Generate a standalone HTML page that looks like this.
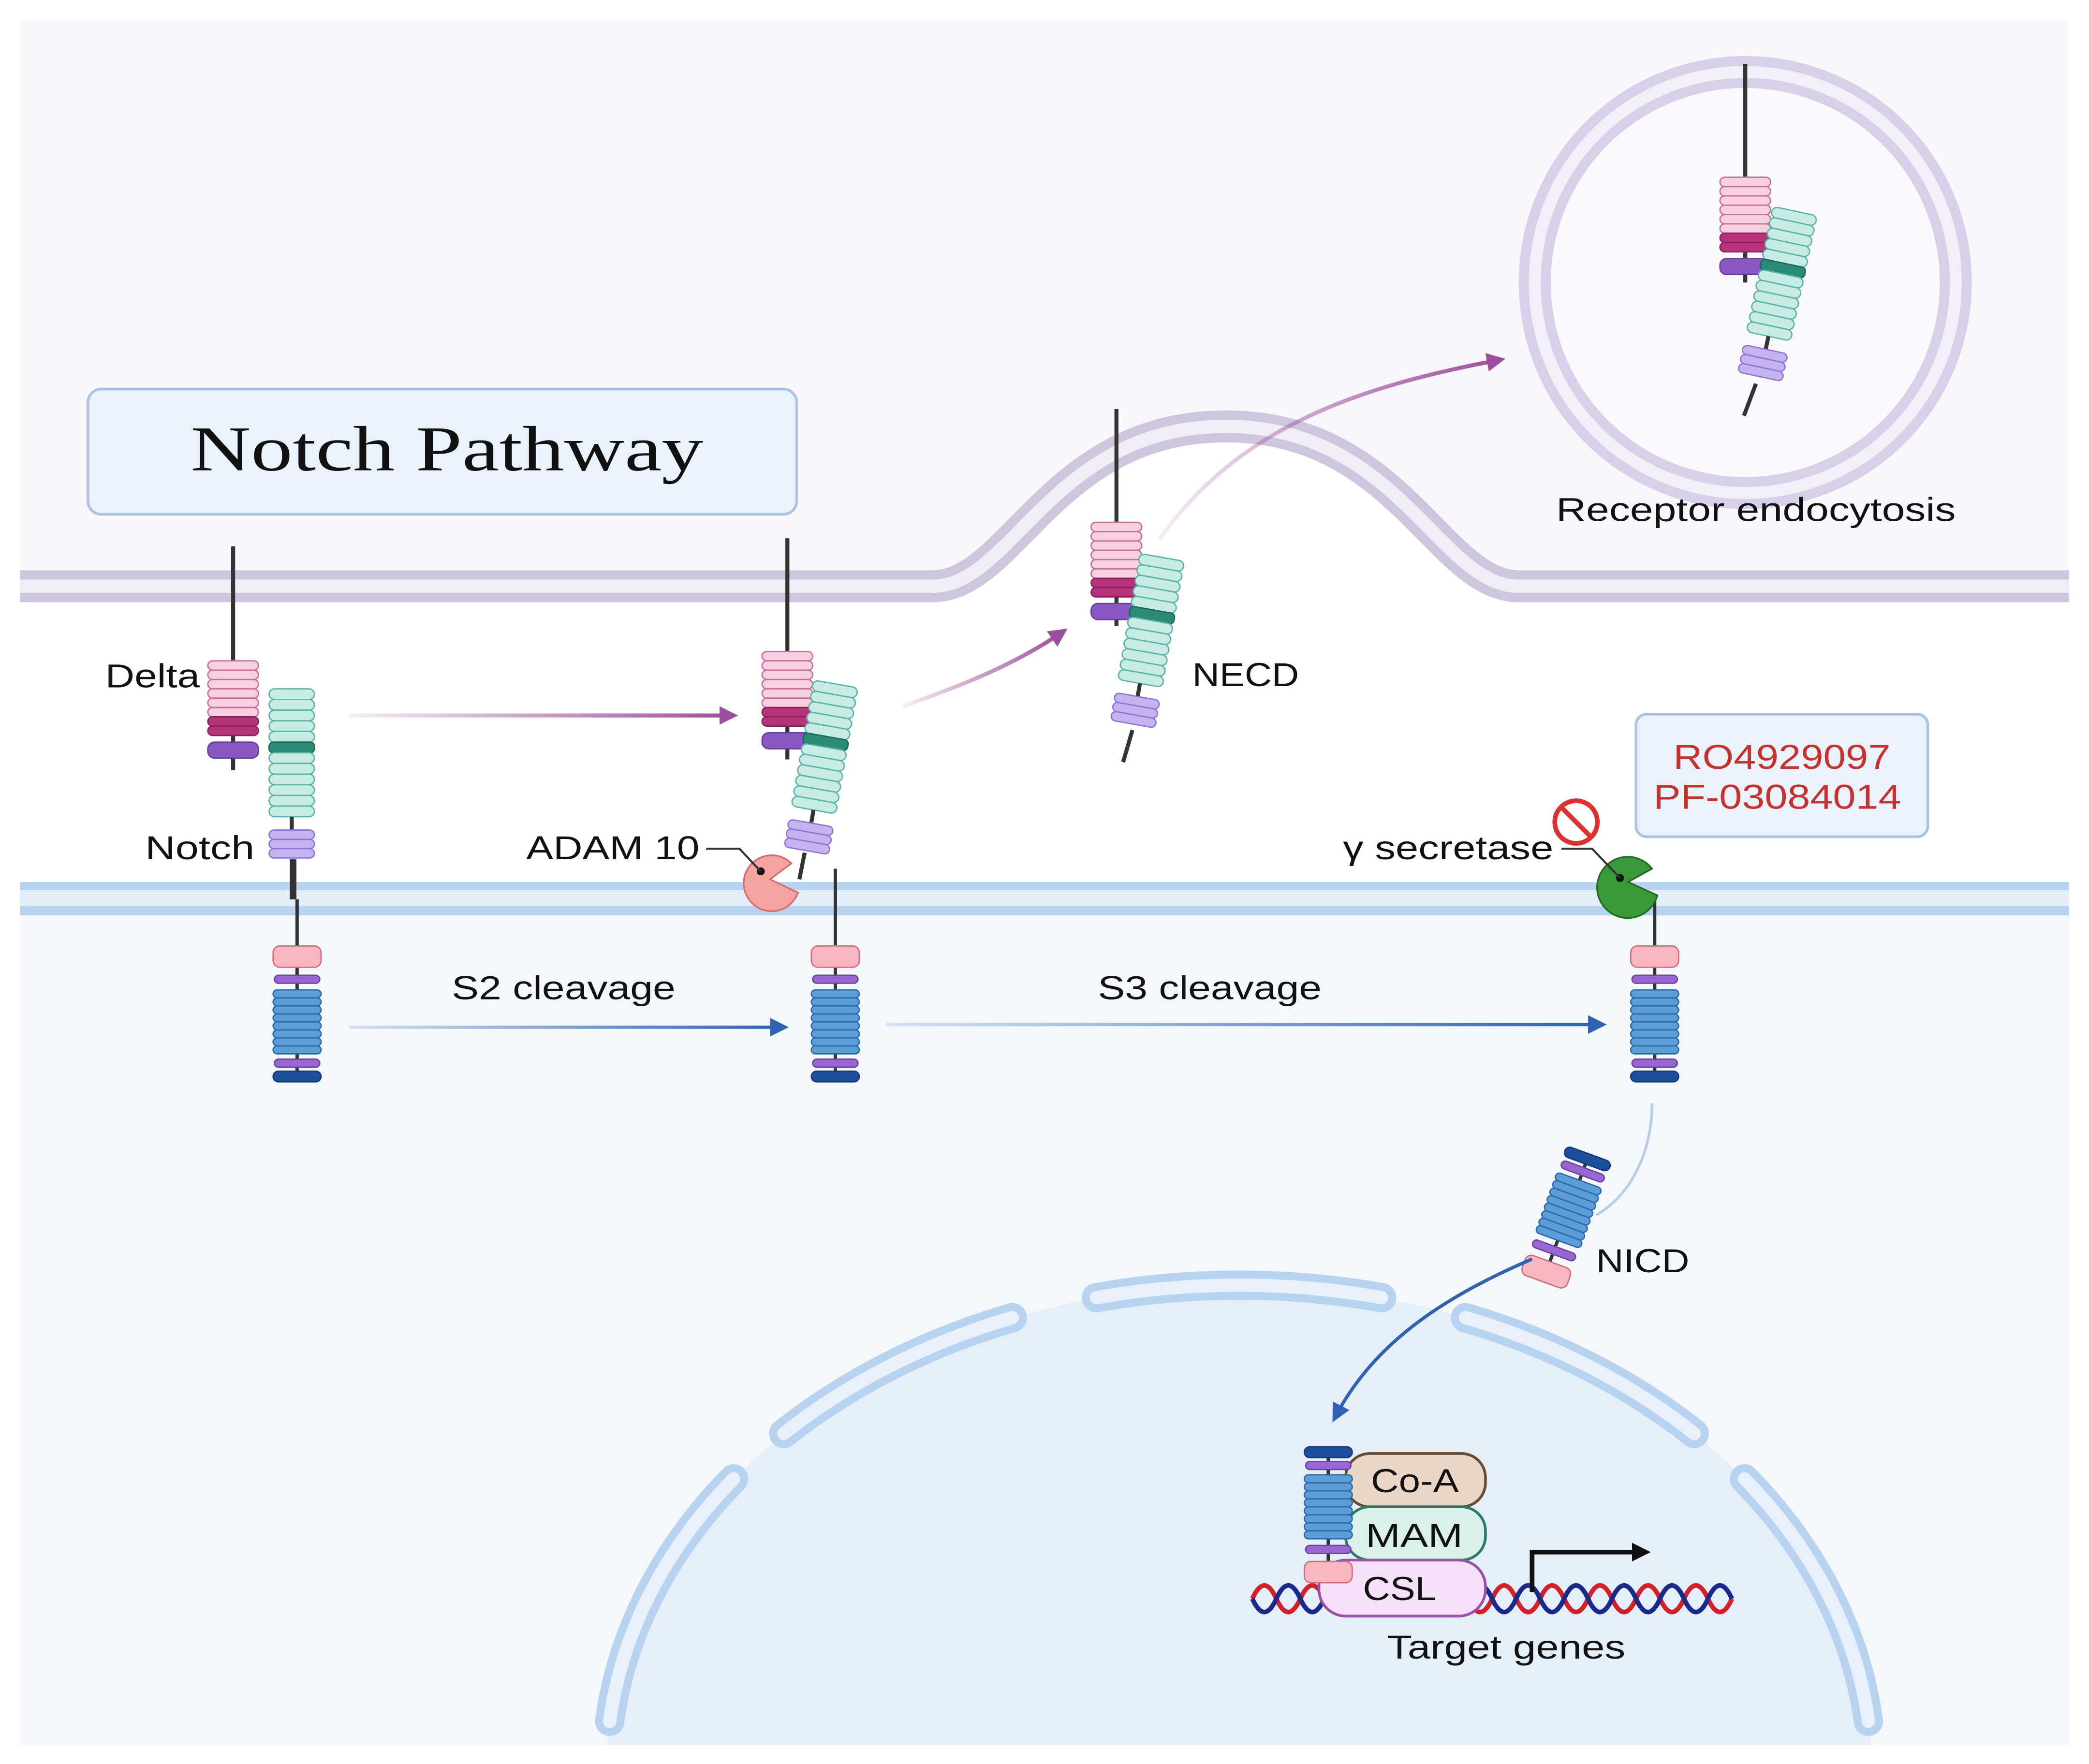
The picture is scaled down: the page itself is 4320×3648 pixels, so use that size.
<!DOCTYPE html>
<html><head><meta charset="utf-8"><style>
html,body{margin:0;padding:0;background:#fff;overflow:hidden;width:4320px;height:3648px;}
svg{display:block;}
text{font-family:"Liberation Sans",sans-serif;}
</style></head><body>
<svg width="4320" height="3648" viewBox="0 0 1568 1324" xmlns="http://www.w3.org/2000/svg">
<defs>
  <marker id="ap" markerWidth="14" markerHeight="14" refX="10" refY="7" orient="auto" markerUnits="userSpaceOnUse" viewBox="0 0 14 14"><path d="M0,0 L14,7 L0,14 z" fill="#9b4f9c"/></marker>
  <marker id="ab" markerWidth="14" markerHeight="14" refX="10" refY="7" orient="auto" markerUnits="userSpaceOnUse" viewBox="0 0 14 14"><path d="M0,0 L14,7 L0,14 z" fill="#2f62b0"/></marker>
  <marker id="ak" markerWidth="14" markerHeight="14" refX="10" refY="7" orient="auto" markerUnits="userSpaceOnUse" viewBox="0 0 14 14"><path d="M0,0 L14,7 L0,14 z" fill="#111"/></marker>
  <linearGradient id="gp1" gradientUnits="userSpaceOnUse" x1="262" y1="0" x2="550" y2="0"><stop offset="0" stop-color="#9b4f9c" stop-opacity="0.1"/><stop offset="1" stop-color="#9b4f9c"/></linearGradient>
  <linearGradient id="gp2" gradientUnits="userSpaceOnUse" x1="678" y1="0" x2="798" y2="0"><stop offset="0" stop-color="#9b4f9c" stop-opacity="0.1"/><stop offset="1" stop-color="#9b4f9c"/></linearGradient>
  <linearGradient id="gp3" gradientUnits="userSpaceOnUse" x1="870" y1="0" x2="1126" y2="0"><stop offset="0" stop-color="#9b4f9c" stop-opacity="0.1"/><stop offset="1" stop-color="#9b4f9c"/></linearGradient>
  <linearGradient id="gb1" gradientUnits="userSpaceOnUse" x1="262" y1="0" x2="588" y2="0"><stop offset="0" stop-color="#2f62b0" stop-opacity="0.15"/><stop offset="1" stop-color="#2f62b0"/></linearGradient>
  <linearGradient id="gb2" gradientUnits="userSpaceOnUse" x1="665" y1="0" x2="1202" y2="0"><stop offset="0" stop-color="#2f62b0" stop-opacity="0.15"/><stop offset="1" stop-color="#2f62b0"/></linearGradient>

  <g id="delta">
    <rect x="0" y="0" width="38" height="7" rx="3.5" fill="#f8cfe0" stroke="#c77199" stroke-width="1"/>
    <rect x="0" y="7" width="38" height="7" rx="3.5" fill="#f8cfe0" stroke="#c77199" stroke-width="1"/>
    <rect x="0" y="14" width="38" height="7" rx="3.5" fill="#f8cfe0" stroke="#c77199" stroke-width="1"/>
    <rect x="0" y="21" width="38" height="7" rx="3.5" fill="#f8cfe0" stroke="#c77199" stroke-width="1"/>
    <rect x="0" y="28" width="38" height="7" rx="3.5" fill="#f8cfe0" stroke="#c77199" stroke-width="1"/>
    <rect x="0" y="35" width="38" height="7" rx="3.5" fill="#f8cfe0" stroke="#c77199" stroke-width="1"/>
    <rect x="0" y="42" width="38" height="7" rx="3.5" fill="#b5347a" stroke="#8d1f5c" stroke-width="1"/>
    <rect x="0" y="49" width="38" height="7" rx="3.5" fill="#b5347a" stroke="#8d1f5c" stroke-width="1"/>
    <rect x="0" y="61" width="38" height="12" rx="5" fill="#8a58c2" stroke="#653f9a" stroke-width="1"/>
  </g>
  <g id="necd">
    <rect x="0" y="0" width="34" height="8" rx="4" fill="#c6ece5" stroke="#5db4a6"/>
    <rect x="0" y="8" width="34" height="8" rx="4" fill="#c6ece5" stroke="#5db4a6"/>
    <rect x="0" y="16" width="34" height="8" rx="4" fill="#c6ece5" stroke="#5db4a6"/>
    <rect x="0" y="24" width="34" height="8" rx="4" fill="#c6ece5" stroke="#5db4a6"/>
    <rect x="0" y="32" width="34" height="8" rx="4" fill="#c6ece5" stroke="#5db4a6"/>
    <rect x="0" y="40" width="34" height="8" rx="3" fill="#2c8a79" stroke="#1d6a5c"/>
    <rect x="0" y="48" width="34" height="8" rx="4" fill="#c6ece5" stroke="#5db4a6"/>
    <rect x="0" y="56" width="34" height="8" rx="4" fill="#c6ece5" stroke="#5db4a6"/>
    <rect x="0" y="64" width="34" height="8" rx="4" fill="#c6ece5" stroke="#5db4a6"/>
    <rect x="0" y="72" width="34" height="8" rx="4" fill="#c6ece5" stroke="#5db4a6"/>
    <rect x="0" y="80" width="34" height="8" rx="4" fill="#c6ece5" stroke="#5db4a6"/>
    <rect x="0" y="88" width="34" height="8" rx="4" fill="#c6ece5" stroke="#5db4a6"/>
    <line x1="17" y1="96" x2="17" y2="106" stroke="#333" stroke-width="3"/>
    <rect x="0" y="106" width="34" height="7" rx="3.5" fill="#c5b3f0" stroke="#8f76cf"/>
    <rect x="0" y="113" width="34" height="7" rx="3.5" fill="#c5b3f0" stroke="#8f76cf"/>
    <rect x="0" y="120" width="34" height="7" rx="3.5" fill="#c5b3f0" stroke="#8f76cf"/>
  </g>
  <g id="icd">
    <line x1="18" y1="0" x2="18" y2="100" stroke="#333" stroke-width="2.5"/>
    <rect x="0" y="0" width="36" height="16" rx="5" fill="#f7b7c0" stroke="#d46b7b"/>
    <rect x="1" y="22" width="34" height="6" rx="3" fill="#9a67d2" stroke="#6b44a3"/>
    <rect x="0" y="33" width="36" height="6" rx="3" fill="#5b9dd8" stroke="#2f6aa8"/>
    <rect x="0" y="39" width="36" height="6" rx="3" fill="#5b9dd8" stroke="#2f6aa8"/>
    <rect x="0" y="45" width="36" height="6" rx="3" fill="#5b9dd8" stroke="#2f6aa8"/>
    <rect x="0" y="51" width="36" height="6" rx="3" fill="#5b9dd8" stroke="#2f6aa8"/>
    <rect x="0" y="57" width="36" height="6" rx="3" fill="#5b9dd8" stroke="#2f6aa8"/>
    <rect x="0" y="63" width="36" height="6" rx="3" fill="#5b9dd8" stroke="#2f6aa8"/>
    <rect x="0" y="69" width="36" height="6" rx="3" fill="#5b9dd8" stroke="#2f6aa8"/>
    <rect x="0" y="75" width="36" height="6" rx="3" fill="#5b9dd8" stroke="#2f6aa8"/>
    <rect x="1" y="85" width="34" height="6" rx="3" fill="#9a67d2" stroke="#6b44a3"/>
    <rect x="0" y="94" width="36" height="8" rx="4" fill="#1e4f9c" stroke="#153a78"/>
  </g>
</defs>

<!-- backgrounds -->
<rect x="0" y="0" width="1568" height="1324" fill="#ffffff"/>
<path d="M15,15 H1553 V440 H1140 C1080,440 1050,320 920,320 C790,320 760,440 700,440 H15 Z" fill="#faf7fc"/>
<rect x="15" y="675" width="1538" height="635" fill="#f4f8fd"/>

<!-- nucleus -->
<ellipse cx="930" cy="1330" rx="475" ry="365" fill="#e5effa"/>
<rect x="0" y="1310" width="1568" height="20" fill="#ffffff"/>
<g fill="none" stroke-linecap="round">
  <g stroke="#b7d3ef" stroke-width="22">
    <path d="M457.6,1292 A475,365 0 0 1 550.6,1110"/>
    <path d="M588.3,1076 A475,365 0 0 1 759.8,989"/>
    <path d="M823,974 A475,365 0 0 1 1037,974"/>
    <path d="M1100,989 A475,365 0 0 1 1271.7,1076"/>
    <path d="M1309.4,1110 A475,365 0 0 1 1402.4,1292"/>
  </g>
  <g stroke="#e8f1fb" stroke-width="10">
    <path d="M457.6,1292 A475,365 0 0 1 550.6,1110"/>
    <path d="M588.3,1076 A475,365 0 0 1 759.8,989"/>
    <path d="M823,974 A475,365 0 0 1 1037,974"/>
    <path d="M1100,989 A475,365 0 0 1 1271.7,1076"/>
    <path d="M1309.4,1110 A475,365 0 0 1 1402.4,1292"/>
  </g>
</g>

<!-- upper membrane -->
<path d="M15,440 H700 C760,440 790,320 920,320 C1050,320 1080,440 1140,440 H1553" fill="none" stroke="#cfc6dd" stroke-width="24"/>
<path d="M15,440 H700 C760,440 790,320 920,320 C1050,320 1080,440 1140,440 H1553" fill="none" stroke="#f1edf7" stroke-width="10"/>

<!-- lower membrane -->
<rect x="15" y="662" width="1538" height="25" fill="#b7d3ef"/>
<rect x="15" y="668" width="1538" height="12" fill="#e3eef9"/>

<!-- vesicle -->
<circle cx="1310" cy="212" r="158" fill="#fbf9fd" stroke="#d8cfe8" stroke-width="24"/>
<circle cx="1310" cy="212" r="158" fill="none" stroke="#f3eff9" stroke-width="9"/>

<!-- title -->
<rect x="66" y="292" width="532" height="94" rx="10" fill="#eaf2fb" stroke="#a9c3e0" stroke-width="2"/>
<text x="143" y="353" textLength="385" lengthAdjust="spacingAndGlyphs" style="font-family:'Liberation Serif',serif" font-size="48" fill="#111">Notch Pathway</text>

<!-- group 1 -->
<line x1="175" y1="410" x2="175" y2="578" stroke="#333" stroke-width="3"/>
<use href="#delta" x="156" y="496"/>
<use href="#necd" x="202" y="517"/>
<line x1="220" y1="645" x2="220" y2="675" stroke="#333" stroke-width="5"/>
<line x1="223" y1="675" x2="223" y2="710" stroke="#333" stroke-width="2.5"/>
<use href="#icd" x="205" y="710"/>
<text x="79" y="516" textLength="71" lengthAdjust="spacingAndGlyphs" font-size="25" fill="#111">Delta</text>
<text x="109" y="645" textLength="82" lengthAdjust="spacingAndGlyphs" font-size="25" fill="#111">Notch</text>

<!-- group 2 -->
<line x1="591" y1="404" x2="591" y2="570" stroke="#333" stroke-width="3"/>
<use href="#delta" x="572" y="489"/>
<g transform="rotate(10 625 515)"><use href="#necd" x="610" y="513"/></g>
<line x1="604" y1="640" x2="600" y2="660" stroke="#333" stroke-width="3"/>
<line x1="627" y1="652" x2="627" y2="710" stroke="#333" stroke-width="2.5"/>
<use href="#icd" x="609" y="710"/>
<path d="M578,660 L594,648 A21,21 0 1 0 599,670 Z" fill="#f4a3a3" stroke="#d86a6a" stroke-width="1.2"/>
<circle cx="571" cy="654" r="3" fill="#111"/>
<polyline points="530,637 555,637 571,654" fill="none" stroke="#333" stroke-width="1.5"/>
<text x="395" y="645" textLength="130" lengthAdjust="spacingAndGlyphs" font-size="25" fill="#111">ADAM 10</text>

<!-- group 3 NECD -->
<line x1="838" y1="307" x2="838" y2="470" stroke="#333" stroke-width="3"/>
<use href="#delta" x="819" y="392"/>
<g transform="rotate(10 870 420)"><use href="#necd" x="855" y="418"/></g>
<line x1="850" y1="548" x2="843" y2="572" stroke="#333" stroke-width="3"/>
<text x="895" y="515" textLength="80" lengthAdjust="spacingAndGlyphs" font-size="25" fill="#111">NECD</text>

<!-- vesicle content -->
<line x1="1310" y1="48" x2="1310" y2="212" stroke="#333" stroke-width="3"/>
<use href="#delta" x="1291" y="133"/>
<g transform="rotate(12 1345 160)"><use href="#necd" x="1330" y="158"/></g>
<line x1="1318" y1="288" x2="1309" y2="312" stroke="#333" stroke-width="3"/>
<text x="1168" y="391" textLength="300" lengthAdjust="spacingAndGlyphs" font-size="25" fill="#111">Receptor endocytosis</text>

<!-- arrows -->
<line x1="262" y1="537" x2="550" y2="537" stroke="url(#gp1)" stroke-width="3" marker-end="url(#ap)"/>
<path d="M678,530 C720,515 760,500 798,474" fill="none" stroke="url(#gp2)" stroke-width="3" marker-end="url(#ap)"/>
<path d="M870,405 C930,320 1020,290 1126,270" fill="none" stroke="url(#gp3)" stroke-width="3" marker-end="url(#ap)"/>
<line x1="262" y1="771" x2="588" y2="771" stroke="url(#gb1)" stroke-width="2.5" marker-end="url(#ab)"/>
<line x1="665" y1="769" x2="1202" y2="769" stroke="url(#gb2)" stroke-width="2.5" marker-end="url(#ab)"/>
<text x="339" y="750" textLength="168" lengthAdjust="spacingAndGlyphs" font-size="25" fill="#111">S2 cleavage</text>
<text x="824" y="750" textLength="168" lengthAdjust="spacingAndGlyphs" font-size="25" fill="#111">S3 cleavage</text>

<!-- group 4 -->
<line x1="1242" y1="672" x2="1242" y2="710" stroke="#333" stroke-width="2.5"/>
<use href="#icd" x="1224" y="710"/>
<path d="M1222,662 L1240,652 A23,23 0 1 0 1244,672 Z" fill="#3a9a3a" stroke="#1f6a1f" stroke-width="1.2"/>
<circle cx="1216" cy="659" r="3" fill="#111"/>
<polyline points="1172,637 1195,637 1216,659" fill="none" stroke="#333" stroke-width="1.5"/>
<text x="1008" y="645" textLength="158" lengthAdjust="spacingAndGlyphs" font-size="25" fill="#111">γ secretase</text>
<circle cx="1183" cy="617" r="16" fill="#fff" stroke="#e03030" stroke-width="3.5"/>
<line x1="1172" y1="606" x2="1194" y2="628" stroke="#e03030" stroke-width="3.5"/>
<rect x="1228" y="536" width="219" height="92" rx="8" fill="#eaf2fb" stroke="#a9c3e0" stroke-width="2"/>
<text x="1256" y="577" textLength="163" lengthAdjust="spacingAndGlyphs" font-size="26" fill="#c8322e">RO4929097</text>
<text x="1241" y="607" textLength="186" lengthAdjust="spacingAndGlyphs" font-size="26" fill="#c8322e">PF-03084014</text>

<!-- NICD -->
<path d="M1240,828 C1240,870 1220,900 1198,912" fill="none" stroke="#b7cde8" stroke-width="2"/>
<g transform="rotate(200 1175 915)"><use href="#icd" x="1157" y="865"/></g>
<text x="1198" y="955" textLength="70" lengthAdjust="spacingAndGlyphs" font-size="25" fill="#111">NICD</text>
<path d="M1150,945 C1080,975 1030,1010 1002,1064" fill="none" stroke="#2f62b0" stroke-width="2.5" marker-end="url(#ab)"/>

<!-- nucleus complex -->
<g fill="none" stroke-width="3.5">
<path d="M940,1200 q9,-20 18,0 t18,0 t18,0 t18,0 t18,0 t18,0 t18,0 t18,0 t18,0 t18,0 t18,0 t18,0 t18,0 t18,0 t18,0 t18,0 t18,0 t18,0 t18,0 t18,0" stroke="#d3202a"/>
<path d="M940,1200 q9,20 18,0 t18,0 t18,0 t18,0 t18,0 t18,0 t18,0 t18,0 t18,0 t18,0 t18,0 t18,0 t18,0 t18,0 t18,0 t18,0 t18,0 t18,0 t18,0 t18,0" stroke="#1a2a8c"/>
</g>
<rect x="1010" y="1091" width="105" height="40" rx="18" fill="#ead6c6" stroke="#6b4a33" stroke-width="2"/>
<rect x="1010" y="1131" width="105" height="40" rx="18" fill="#d9f1ea" stroke="#2a7a64" stroke-width="2"/>
<rect x="990" y="1171" width="125" height="42" rx="20" fill="#f6dff8" stroke="#9a4faa" stroke-width="2"/>
<g transform="translate(979,1188) rotate(180) translate(-36,0)"><use href="#icd" x="0" y="0"/></g>
<text x="1029" y="1120" textLength="66" lengthAdjust="spacingAndGlyphs" font-size="25" fill="#111">Co-A</text>
<text x="1025" y="1161" textLength="73" lengthAdjust="spacingAndGlyphs" font-size="25" fill="#111">MAM</text>
<text x="1023" y="1201" textLength="55" lengthAdjust="spacingAndGlyphs" font-size="25" fill="#111">CSL</text>
<polyline points="1150,1195 1150,1165 1235,1165" fill="none" stroke="#111" stroke-width="3.5" marker-end="url(#ak)"/>
<text x="1041" y="1245" textLength="179" lengthAdjust="spacingAndGlyphs" font-size="25" fill="#111">Target genes</text>
</svg>
</body></html>
